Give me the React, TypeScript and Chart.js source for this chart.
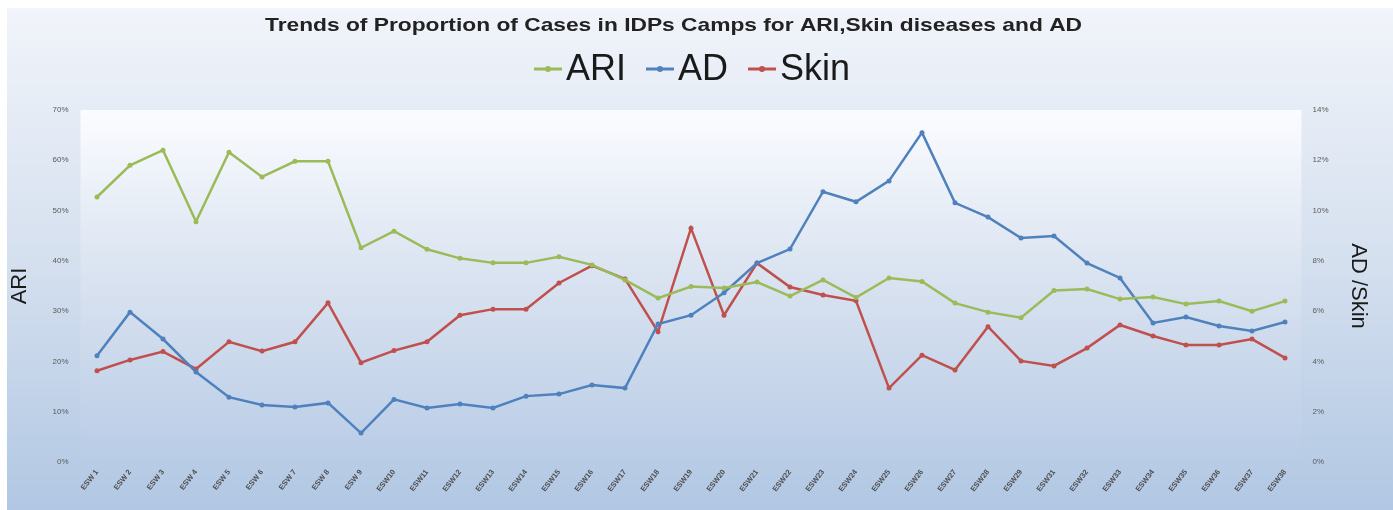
import React, { useEffect, useRef } from "react";
import { Chart, registerables } from "chart.js";

Chart.register(...registerables);

const chartTitle = "Trends of Proportion of Cases in IDPs Camps for ARI,Skin diseases and AD";

const weeks = [
  "ESW 1", "ESW 2", "ESW 3", "ESW 4", "ESW 5", "ESW 6", "ESW 7", "ESW 8", "ESW 9",
  "ESW10", "ESW11", "ESW12", "ESW13", "ESW14", "ESW15", "ESW16", "ESW17", "ESW18",
  "ESW19", "ESW20", "ESW21", "ESW22", "ESW23", "ESW24", "ESW25", "ESW26", "ESW27",
  "ESW28", "ESW29", "ESW31", "ESW32", "ESW33", "ESW34", "ESW35", "ESW36", "ESW37", "ESW38",
];

// ARI, % (left axis)
const ariValues = [
  52.7, 59.0, 62.0, 47.8, 61.6, 56.7, 59.8, 59.8, 42.6, 45.9, 42.3, 40.5, 39.6, 39.6,
  40.8, 39.2, 36.2, 32.6, 34.9, 34.6, 35.8, 33.0, 36.2, 32.7, 36.6, 35.9, 31.6, 29.8,
  28.7, 34.1, 34.4, 32.4, 32.8, 31.4, 32.0, 30.0, 32.0,
];

// AD, % (right axis)
const adValues = [
  4.23, 5.96, 4.89, 3.58, 2.58, 2.27, 2.19, 2.35, 1.15, 2.49, 2.15, 2.31, 2.15, 2.62,
  2.70, 3.06, 2.94, 5.49, 5.84, 6.73, 7.91, 8.47, 10.75, 10.35, 11.18, 13.10, 10.31,
  9.74, 8.91, 8.99, 7.91, 7.32, 5.53, 5.77, 5.41, 5.21, 5.57,
];

// Skin, % (right axis)
const skinValues = [
  3.63, 4.06, 4.39, 3.70, 4.78, 4.41, 4.78, 6.33, 3.95, 4.43, 4.78, 5.84, 6.08, 6.08,
  7.12, 7.81, 7.28, 5.18, 9.30, 5.84, 7.91, 6.96, 6.64, 6.41, 2.94, 4.25, 3.66, 5.38,
  4.02, 3.82, 4.53, 5.45, 5.01, 4.65, 4.65, 4.89, 4.14,
];

const leftAxisMax = 70;
const leftAxisStep = 10;
const rightAxisMax = 14;
const rightAxisStep = 2;

const seriesNames = ["ARI", "AD", "Skin"];
const seriesColors = ["#9bbb59", "#4f81bd", "#c0504d"];

const backgroundPlugin = {
  id: "bgPlugin",
  beforeDraw(chart: any) {
    const { ctx, width, height, chartArea } = chart;
    ctx.save();
    const g = ctx.createLinearGradient(0, 0, 0, height);
    g.addColorStop(0, "#f1f4fa");
    g.addColorStop(0.5, "#d5e0ef");
    g.addColorStop(1, "#b1c7e3");
    ctx.fillStyle = g;
    ctx.fillRect(0, 0, width, height);
    const pg = ctx.createLinearGradient(0, chartArea.top, 0, chartArea.bottom);
    pg.addColorStop(0, "#fbfcff");
    pg.addColorStop(0.45, "#dbe4f1");
    pg.addColorStop(1, "#b9cce6");
    ctx.fillStyle = pg;
    ctx.fillRect(chartArea.left, chartArea.top, chartArea.right - chartArea.left, chartArea.bottom - chartArea.top);
    ctx.restore();
  },
  afterDraw(chart: any) {
    const { ctx } = chart;
    ctx.save();
    // title
    ctx.font = "bold 19px 'Liberation Sans', Arial, sans-serif";
    ctx.fillStyle = "#222";
    ctx.textAlign = "center";
    ctx.textBaseline = "middle";
    const tw = ctx.measureText(chartTitle).width;
    const sx = 817 / tw;
    ctx.translate(666.5, 18);
    ctx.scale(sx, 1);
    ctx.fillText(chartTitle, 0, 0);
    ctx.restore();

    // legend
    ctx.save();
    ctx.font = "36px 'Liberation Sans', Arial, sans-serif";
    ctx.textBaseline = "middle";
    ctx.textAlign = "left";
    const markerW = 28;
    const gap = 4;
    const itemGap = 20;
    let total = 0;
    const widths = seriesNames.map((n) => ctx.measureText(n).width);
    widths.forEach((w, i) => {
      total += markerW + gap + w + (i < widths.length - 1 ? itemGap : 0);
    });
    let x = 685 - total / 2;
    const y = 61;
    seriesNames.forEach((n, i) => {
      ctx.strokeStyle = seriesColors[i];
      ctx.lineWidth = 3;
      ctx.beginPath();
      ctx.moveTo(x, y);
      ctx.lineTo(x + markerW, y);
      ctx.stroke();
      ctx.fillStyle = seriesColors[i];
      ctx.beginPath();
      ctx.arc(x + markerW / 2, y, 3, 0, Math.PI * 2);
      ctx.fill();
      ctx.fillStyle = "#1a1a1a";
      ctx.fillText(n, x + markerW + gap, y + 1);
      x += markerW + gap + widths[i] + itemGap;
    });
    ctx.restore();
  },
};

export default function App() {
  const canvasRef = useRef<HTMLCanvasElement | null>(null);

  useEffect(() => {
    if (!canvasRef.current) return;
    const tickFont = { family: "'Liberation Sans', Arial, sans-serif", size: 8 };
    const makeDataset = (i: number, data: number[], axis: string) => ({
      label: seriesNames[i],
      data,
      borderColor: seriesColors[i],
      backgroundColor: seriesColors[i],
      borderWidth: 2.5,
      pointRadius: 2.5,
      pointBorderWidth: 0,
      yAxisID: axis,
      tension: 0,
    });
    const chart = new Chart(canvasRef.current, {
      type: "line",
      data: {
        labels: weeks,
        datasets: [
          makeDataset(0, ariValues, "y"),
          makeDataset(1, adValues, "y1"),
          makeDataset(2, skinValues, "y1"),
        ],
      },
      options: {
        animation: false,
        responsive: false,
        maintainAspectRatio: false,
        layout: { padding: { top: 102, right: 22, bottom: 0, left: 0 } },
        plugins: {
          legend: { display: false },
          title: { display: false },
          tooltip: { enabled: false },
        },
        scales: {
          x: {
            type: "category",
            offset: true,
            grid: { display: false, drawTicks: false },
            border: { display: false },
            ticks: {
              autoSkip: false,
              minRotation: 52,
              maxRotation: 52,
              padding: 6,
              color: "#4d4d4d",
              font: { ...tickFont, size: 7.5, weight: "bold" },
            },
            afterFit(scale: any) {
              scale.height = 48;
            },
          },
          y: {
            type: "linear",
            position: "left",
            min: 0,
            max: leftAxisMax,
            grid: { display: false, drawTicks: false },
            border: { display: false },
            ticks: {
              stepSize: leftAxisStep,
              padding: 12,
              color: "#5a5a5a",
              font: tickFont,
              callback: (v: any) => `${v}%`,
            },
            title: {
              display: true,
              text: "ARI",
              color: "#1a1a1a",
              padding: 0,
              font: { family: "'Liberation Sans', Arial, sans-serif", size: 22 },
            },
            afterFit(scale: any) {
              scale.width = 73.5;
            },
          },
          y1: {
            type: "linear",
            position: "right",
            min: 0,
            max: rightAxisMax,
            grid: { display: false, drawTicks: false },
            border: { display: false },
            ticks: {
              stepSize: rightAxisStep,
              padding: 11,
              color: "#5a5a5a",
              font: tickFont,
              callback: (v: any) => `${v}%`,
            },
            title: {
              display: true,
              text: "AD /Skin",
              color: "#1a1a1a",
              padding: 0,
              font: { family: "'Liberation Sans', Arial, sans-serif", size: 22 },
            },
            afterFit(scale: any) {
              scale.width = 69.5;
            },
          },
        },
      },
      plugins: [backgroundPlugin],
    } as any);
    return () => chart.destroy();
  }, []);

  return (
    <div style={{ position: "fixed", left: 7, top: 8, width: 1386, height: 502 }}>
      <canvas ref={canvasRef} width={1386} height={502} style={{ display: "block" }} />
    </div>
  );
}
